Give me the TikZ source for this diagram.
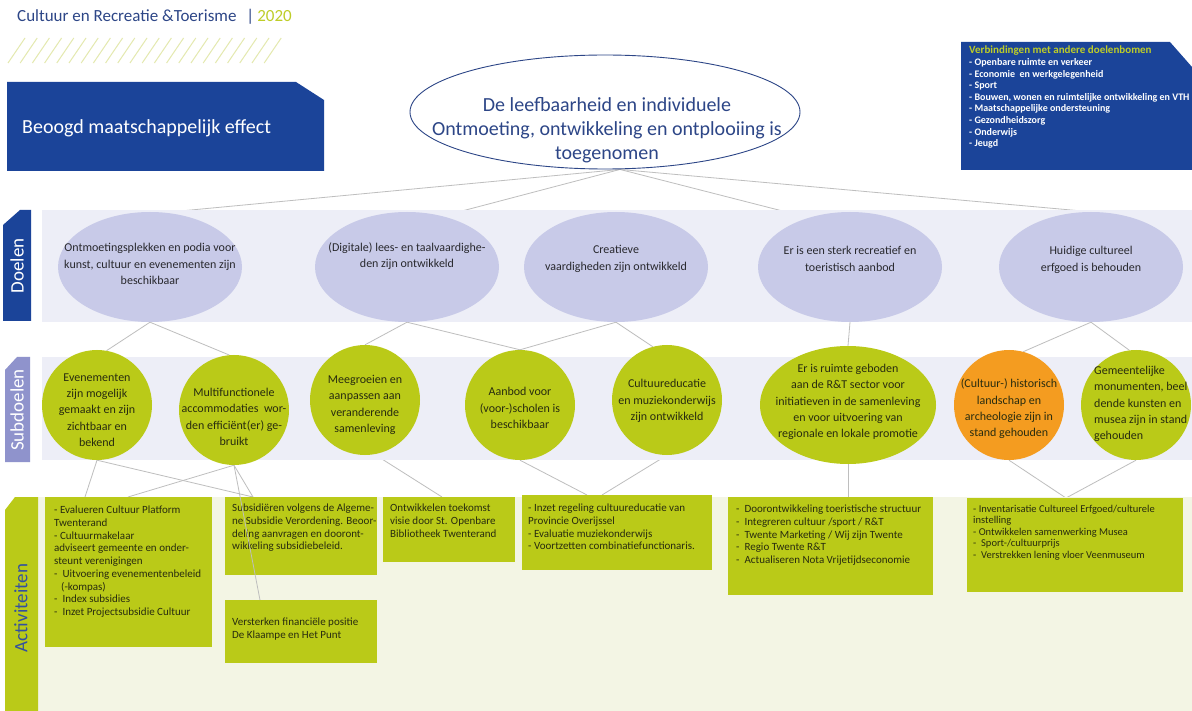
\documentclass[tikz,border=0pt]{standalone}
\usepackage{fontspec}
\setmainfont{Carlito}
\usetikzlibrary{shapes.geometric,positioning}
\definecolor{effblue}{RGB}{27,68,153}
\definecolor{hdblue}{RGB}{45,70,135}
\definecolor{hdlime}{RGB}{190,205,40}
\definecolor{hatchlime}{RGB}{228,233,175}
\definecolor{bandlav}{RGB}{237,238,247}
\definecolor{doellav}{RGB}{200,202,232}
\definecolor{sublav}{RGB}{143,147,204}
\definecolor{subgreen}{RGB}{186,202,24}
\definecolor{ochre}{RGB}{244,156,32}
\definecolor{actcream}{RGB}{243,245,228}
\definecolor{linkgrey}{RGB}{190,190,190}
\definecolor{doeltext}{RGB}{40,40,45}
\definecolor{acttext}{RGB}{40,44,15}
\definecolor{tabblue}{RGB}{50,80,160}
\pgfdeclarelayer{links}
\pgfdeclarelayer{bands}
\pgfsetlayers{links,bands,main}

\begin{document}
\begin{tikzpicture}
	[ x=1pt, y=-1pt,
		doel/.style={ellipse,fill=doellav,minimum width=184pt,minimum height=110pt,inner sep=0pt},
		doeltxt/.style={align=center,inner sep=0pt,text=doeltext,font=\fontsize{12}{16.5}\selectfont},
		subdoel/.style={circle,fill=subgreen,minimum size=110pt,inner sep=0pt},
		subtxt/.style={align=center,inner sep=0pt,text=acttext,font=\fontsize{12}{16.3}\selectfont},
		activity/.style={rectangle,fill=subgreen,anchor=north west,inner sep=0pt},
		acttxt/.style={anchor=north west,align=left,inner sep=0pt,text=acttext,font=\fontsize{11}{12.7}\selectfont},
		tab/.style={rotate=90,inner sep=0pt,font=\fontsize{19}{19}\selectfont},
		hatch/.style={draw=hatchlime,line width=1pt},
		link/.style={draw=linkgrey,line width=0.8pt}]

	\useasboundingbox (0,0) rectangle (1192,711);
	\begin{pgfonlayer}{links}
		\fill[white] (0,0) rectangle (1192,711);
	\end{pgfonlayer}

	\node[anchor=base west,inner sep=0pt,text=hdblue,font=\fontsize{17}{20}\selectfont] (kop) at (17,22)
		{Cultuur en Recreatie \&Toerisme\hspace{10pt}|\hspace{3pt}\textcolor{hdlime}{2020}};
	\foreach \i in {0,...,21}
		\draw[hatch] (8+12.2*\i,63) -- ++(17,-25);

	\fill[effblue] (7,82) -- (296,82) -- (324,100) -- (324,171) -- (7,171) -- cycle;
	\node[anchor=west,inner sep=0pt,text=white,font=\fontsize{20}{24}\selectfont] (beoogd) at (22,128) {Beoogd maatschappelijk effect};

	\fill[effblue] (961,42) -- (1170,42) -- (1192,67) -- (1192,170) -- (961,170) -- cycle;
	\node[anchor=north west,align=left,inner sep=0pt,text=white,font=\bfseries\fontsize{10}{11.6}\selectfont] (verbinding) at (969,46)
		{\textcolor{hdlime}{\fontsize{11}{12}\selectfont Verbindingen met andere doelenbomen}\\
		- Openbare ruimte en verkeer\\
		- Economie\ \ en werkgelegenheid\\
		- Sport\\
		- Bouwen, wonen en ruimtelijke ontwikkeling en VTH\\
		- Maatschappelijke ondersteuning\\
		- Gezondheidszorg\\
		- Onderwijs\\
		- Jeugd};

	\node[ellipse,draw=hdblue,line width=0.9pt,fill=white,minimum width=390pt,minimum height=114pt,inner sep=0pt] (eff) at (605,112) {};
	\node[align=center,inner sep=0pt,text=hdblue,font=\fontsize{20}{24}\selectfont] (efftxt) at (607,130)
		{De leefbaarheid en individuele\\Ontmoeting, ontwikkeling en ontplooiing is\\toegenomen};

	\begin{pgfonlayer}{bands}
		\fill[bandlav] (42,210) rectangle (1192,322);
		\fill[bandlav] (42,357) rectangle (1192,460);
		\fill[actcream] (38,497) rectangle (1192,711);
		\fill[effblue] (3,225) -- (20,210) -- (31,210) -- (31,321) -- (3,321) -- cycle;
		\fill[sublav] (5,370) -- (17,357) -- (30,357) -- (30,462) -- (5,462) -- cycle;
		\fill[subgreen] (5,510) -- (15,497) -- (38,497) -- (38,711) -- (5,711) -- cycle;
	\end{pgfonlayer}
	\node[tab,text=white] (tabdoel) at (17,266) {Doelen};
	\node[tab,text=white] (tabsub) at (17,410) {Subdoelen};
	\node[tab,text=tabblue] (tabact) at (21,608) {Activiteiten};

	\node[doel] (doel1) at (150,267) {};
	\node[doeltxt] (doel1t) at (150,264) {Ontmoetingsplekken en podia voor\\kunst, cultuur en evenementen zijn\\beschikbaar};
	\node[doel] (doel2) at (407,267) {};
	\node[doeltxt] (doel2t) at (407,256) {(Digitale) lees- en taalvaardighe-\\den zijn ontwikkeld};
	\node[doel] (doel3) at (616,267) {};
	\node[doeltxt] (doel3t) at (616,259) {Creatieve\\vaardigheden zijn ontwikkeld};
	\node[doel] (doel4) at (850,267) {};
	\node[doeltxt] (doel4t) at (850,259) {Er is een sterk recreatief en\\toeristisch aanbod};
	\node[doel] (doel5) at (1091,267) {};
	\node[doeltxt] (doel5t) at (1091,260) {Huidige cultureel\\erfgoed is behouden};

	\node[subdoel] (sub1) at (97,405) {};
	\node[subtxt] (sub1t) at (97,410) {Evenementen\\zijn mogelijk\\gemaakt en zijn\\zichtbaar en\\bekend};
	\node[subdoel] (sub2) at (234,410) {};
	\node[subtxt] (sub2t) at (234,417) {Multifunctionele\\accommodaties\ \ wor-\\den effici\"ent(er) ge-\\bruikt};
	\node[subdoel] (sub3) at (365,400) {};
	\node[subtxt] (sub3t) at (365,405) {Meegroeien en\\aanpassen aan\\veranderende\\samenleving};
	\node[subdoel] (sub4) at (520,405) {};
	\node[subtxt] (sub4t) at (520,408) {Aanbod voor\\(voor-)scholen is\\beschikbaar};
	\node[subdoel] (sub5) at (667,400) {};
	\node[subtxt] (sub5t) at (667,401) {Cultuureducatie\\en muziekonderwijs\\zijn ontwikkeld};
	\node[subdoel,ellipse,minimum width=176pt,minimum height=118pt] (sub6) at (848,405) {};
	\node[subtxt] (sub6t) at (848,402) {Er is ruimte geboden\\aan de R\&T sector voor\\initiatieven in de samenleving\\en voor uitvoering van\\regionale en lokale promotie};
	\node[subdoel,fill=ochre] (sub7) at (1009,405) {};
	\node[subtxt] (sub7t) at (1009,409) {(Cultuur-) historisch\\landschap en\\archeologie zijn in\\stand gehouden};
	\node[subdoel] (sub8) at (1136,405) {};
	\node[subtxt,align=left,anchor=west] (sub8t) at (1094,404) {Gemeentelijke\\monumenten, beel\\dende kunsten en\\musea zijn in stand\\gehouden};

	\node[activity,minimum width=167pt,minimum height=150pt] (act1) at (45,497) {};
	\node[acttxt] (act1t) at (54,506) {- Evalueren Cultuur Platform\\Twenterand\\- Cultuurmakelaar\\adviseert gemeente en onder-\\steunt verenigingen\\-\ \ Uitvoering evenementenbeleid\\\hspace*{7pt}(-kompas)\\-\ \ Index subsidies\\-\ \ Inzet Projectsubsidie Cultuur};
	\node[activity,minimum width=152pt,minimum height=78pt] (act2) at (225,497) {};
	\node[acttxt] (act2t) at (232,504) {Subsidi\"eren volgens de Algeme-\\ne Subsidie Verordening. Beoor-\\deling aanvragen en dooront-\\wikkeling subsidiebeleid.};
	\node[activity,minimum width=152pt,minimum height=63pt] (act3) at (225,600) {};
	\node[acttxt] (act3t) at (232,618) {Versterken financi\"ele positie\\De Klaampe en Het Punt};
	\node[activity,minimum width=132pt,minimum height=65pt] (act4) at (383,497) {};
	\node[acttxt] (act4t) at (390,504) {Ontwikkelen toekomst\\visie door St. Openbare\\Bibliotheek Twenterand};
	\node[activity,minimum width=190pt,minimum height=75pt] (act5) at (522,495) {};
	\node[acttxt] (act5t) at (528,504) {- Inzet regeling cultuureducatie van\\Provincie Overijssel\\- Evaluatie muziekonderwijs\\- Voortzetten combinatiefunctionaris.};
	\node[activity,minimum width=205pt,minimum height=98pt] (act6) at (728,497) {};
	\node[acttxt] (act6t) at (736,505) {-\ \ Doorontwikkeling toeristische structuur\\-\ \ Integreren cultuur /sport / R\&T\\-\ \ Twente Marketing / Wij zijn Twente\\-\ \ Regio Twente R\&T\\-\ \ Actualiseren Nota Vrijetijdseconomie};
	\node[activity,minimum width=216pt,minimum height=94pt] (act7) at (967,498) {};
	\node[acttxt,font=\fontsize{10.5}{11.5}\selectfont] (act7t) at (973,505) {- Inventarisatie Cultureel Erfgoed/culturele\\instelling\\- Ontwikkelen samenwerking Musea\\-\ \ Sport-/cultuurprijs\\-\ \ Verstrekken lening vloer Veenmuseum};

	\begin{pgfonlayer}{links}
		\draw[link] ([xshift=15pt]eff.south) -- (doel1.75);
		\draw[link] ([xshift=15pt]eff.south) -- (doel2.55);
		\draw[link] ([xshift=15pt]eff.south) -- (doel4.130);
		\draw[link] ([xshift=15pt]eff.south) -- (doel5.north);
		\draw[link] (doel1.south) -- (sub1.80);
		\draw[link] (doel1.south) -- (sub2.95);
		\draw[link] (doel2.south) -- (sub3.north);
		\draw[link] (doel2.south) -- (sub4.north);
		\draw[link] (doel3.south) -- (sub4.north);
		\draw[link] (doel3.south) -- (sub5.105);
		\draw[link] (doel4.south) -- (sub6.north);
		\draw[link] (doel5.south) -- (sub7.75);
		\draw[link] (doel5.south) -- (sub8.97);
		\draw[link] (sub1.south) -- ([xshift=40pt]act1.north west);
		\draw[link] (sub1.south) -- ([xshift=28pt]act2.north west);
		\draw[link] (sub2.south) -- ([xshift=83pt]act1.north west);
		\draw[link] (sub2.south) -- ([xshift=28pt]act2.north west);
		\draw[link] (sub3.-80) -- ([xshift=59pt]act4.north west);
		\draw[link] (sub4.south) -- ([xshift=65pt]act5.north west);
		\draw[link] (sub5.south) -- ([xshift=80pt]act5.north west);
		\draw[link] (sub6.south) -- (sub6.south |- act6.north);
		\draw[link] (sub7.south) -- ([xshift=99pt]act7.north west);
		\draw[link] (sub8.south) -- ([xshift=99pt]act7.north west);
	\end{pgfonlayer}
	\draw[link] (sub2.south) -- ([xshift=35pt]act3.north west);
\end{tikzpicture}
\end{document}
